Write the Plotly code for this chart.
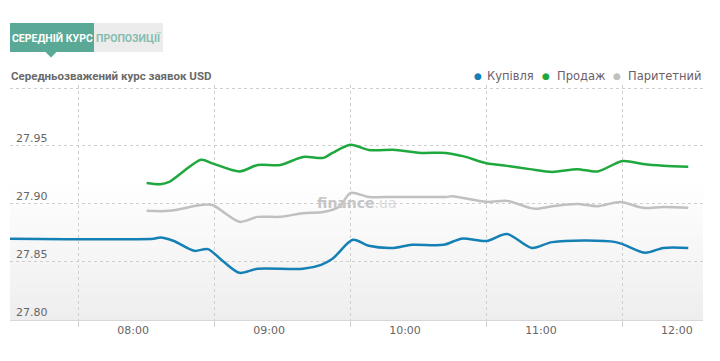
import plotly.graph_objects as go

DAY = "2014-01-01 "

# --- data ---
buy_times = ["07:00", "08:09", "08:12", "08:18", "08:27", "08:33", "08:40", "08:47", "08:55",
             "09:15", "09:23", "09:28", "09:37", "09:44", "09:55", "10:03", "10:17", "10:25",
             "10:36", "10:45", "10:56", "11:05", "11:33", "11:46", "11:54", "12:05"]
buy_values = [27.870, 27.870, 27.871, 27.868, 27.8595, 27.861, 27.850, 27.8405, 27.844,
              27.844, 27.8474, 27.8526, 27.869, 27.8638, 27.862, 27.8647, 27.8647, 27.870,
              27.868, 27.874, 27.862, 27.867, 27.867, 27.8578, 27.862, 27.862]

sell_times = ["08:06", "08:12", "08:16", "08:30", "08:35", "08:47", "08:55", "09:05", "09:15",
              "09:24", "09:28", "09:36", "09:44", "09:56", "10:07", "10:18", "10:26", "10:36",
              "10:45", "10:55", "11:05", "11:16", "11:25", "11:36", "11:45", "11:54", "12:05"]
sell_values = [27.918, 27.917, 27.919, 27.938, 27.935, 27.928, 27.9336, 27.9336, 27.9405,
               27.9397, 27.944, 27.951, 27.9466, 27.9466, 27.944, 27.944, 27.941, 27.935,
               27.9328, 27.930, 27.9276, 27.930, 27.928, 27.937, 27.9345, 27.933, 27.932]

par_times = ["08:06", "08:16", "08:30", "08:35", "08:47", "08:55", "09:05", "09:15", "09:24",
             "09:31", "09:36", "09:44", "09:56", "10:18", "10:21", "10:36", "10:45", "10:55",
             "10:58", "11:05", "11:16", "11:25", "11:35", "11:45", "11:54", "12:05"]
par_values = [27.894, 27.894, 27.899, 27.899, 27.8845, 27.8888, 27.8888, 27.892, 27.893,
              27.8975, 27.9095, 27.906, 27.906, 27.906, 27.9065, 27.9017, 27.9026, 27.8966,
              27.8957, 27.898, 27.900, 27.898, 27.9017, 27.8966, 27.8974, 27.8966]

series_names = ["Купівля", "Продаж", "Паритетний"]
series_colors = ["#1580b4", "#1fa83e", "#c0c0c0"]

hour_ticks = ["08:00", "09:00", "10:00", "11:00", "12:00"]
grid_times = ["07:36", "08:36", "09:36", "10:36", "11:36"]
y_ticks = [27.80, 27.85, 27.90, 27.95, 28.00]
y_labels = ["27.80", "27.85", "27.90", "27.95", ""]
x_range = ["07:05:42", "12:11:30"]
y_range = [27.7998, 28.0026]

title_text = "Середньозважений курс заявок USD"
tab_active = "СЕРЕДНІЙ КУРС"
tab_other = "ПРОПОЗИЦІЇ"

# --- figure ---
fig = go.Figure()
for times, vals, name, col in [(buy_times, buy_values, series_names[0], series_colors[0]),
                               (sell_times, sell_values, series_names[1], series_colors[1]),
                               (par_times, par_values, series_names[2], series_colors[2])]:
    fig.add_trace(go.Scatter(
        x=[DAY + t for t in times], y=vals, name=name, mode="lines",
        line=dict(color=col, width=2.5, shape="spline", smoothing=0.8),
        showlegend=False, hoverinfo="x+y+name"))

L, R, T, B = 10, 17, 85, 41
W, H = 720, 361
PW, PH = W - L - R, H - T - B

def px(xp):
    return (xp - L) / PW

def py(yp):
    return (H - B - yp) / PH

NARROW = "Roboto, Liberation Sans Narrow, sans-serif"

shapes = []
# plot background gradient (white top -> light grey bottom)
N = 30
top = 0.6
for i in range(N):
    f = i / (N - 1)
    c = int(round(0xee + (0xff - 0xee) * f))
    shapes.append(dict(type="rect", xref="paper", yref="paper", x0=0, x1=1,
                       y0=top * i / N, y1=top * (i + 1) / N + 0.002,
                       fillcolor=f"rgb({c},{c},{c})", line=dict(width=0), layer="below"))
# tabs
shapes.append(dict(type="rect", xref="paper", yref="paper", x0=px(10), x1=px(94),
                   y0=py(52), y1=py(23), fillcolor="#5aa996", line=dict(width=0)))
shapes.append(dict(type="rect", xref="paper", yref="paper", x0=px(94), x1=px(163),
                   y0=py(52), y1=py(23), fillcolor="#ececec", line=dict(width=0)))
shapes.append(dict(type="path", xref="paper", yref="paper",
                   path=f"M {px(45)} {py(51.5)} L {px(57)} {py(51.5)} L {px(51)} {py(57.5)} Z",
                   fillcolor="#5aa996", line=dict(width=0)))

annotations = [
    dict(text=f"<b>{tab_active}</b>", x=px(52), y=py(38), xref="paper", yref="paper",
         showarrow=False, xanchor="center", yanchor="middle",
         font=dict(family=NARROW, size=10.5, color="#ffffff")),
    dict(text=f"<b>{tab_other}</b>", x=px(128.5), y=py(38), xref="paper", yref="paper",
         showarrow=False, xanchor="center", yanchor="middle",
         font=dict(family=NARROW, size=10.5, color="#86bcb0")),
    dict(text=f"<b>{title_text}</b>", x=px(9), y=py(76), xref="paper", yref="paper",
         showarrow=False, xanchor="left", yanchor="middle",
         font=dict(family=NARROW, size=11.5, color="#6a6a6a")),
    dict(text="<b>finance</b><span style='color:#d8d8d8'>.ua</span>", x=px(357), y=py(203),
         xref="paper", yref="paper", showarrow=False, xanchor="center", yanchor="middle",
         font=dict(family="DejaVu Sans, sans-serif", size=14, color="#c6c6c6")),
]
# legend built from annotations
legend_dot_x = [478, 546, 617]
legend_txt_x = [485, 555, 626]
for name, col, dx, tx in zip(series_names, series_colors, legend_dot_x, legend_txt_x):
    annotations.append(dict(text="●", x=px(dx), y=py(76), xref="paper", yref="paper",
                            showarrow=False, xanchor="center", yanchor="middle",
                            font=dict(size=9, color=col)))
    annotations.append(dict(text=name, x=px(tx), y=py(76), xref="paper", yref="paper",
                            showarrow=False, xanchor="left", yanchor="middle",
                            font=dict(family="DejaVu Sans, sans-serif", size=11.5, color="#6d6068")))

fig.update_layout(
    width=W, height=H,
    margin=dict(l=L, r=R, t=T, b=B, pad=0),
    paper_bgcolor="#ffffff", plot_bgcolor="#ffffff",
    shapes=shapes, annotations=annotations,
    showlegend=False,
    font=dict(family="DejaVu Sans, sans-serif", size=11, color="#666666"),
)
fig.update_xaxes(
    type="date", range=[DAY + x_range[0], DAY + x_range[1]],
    tickvals=[DAY + t for t in hour_ticks], ticktext=hour_ticks,
    showgrid=False, ticks="", showline=True, linecolor="#d8d8d8", linewidth=1,
    zeroline=False, tickfont=dict(size=11, color="#666666"),
    minor=dict(tickvals=[DAY + t for t in grid_times], showgrid=True, gridcolor="#cfcfcf",
               griddash="3px,3px", gridwidth=1, ticks="outside", ticklen=6, tickcolor="#cfcfcf"),
)
fig.update_yaxes(
    range=y_range, tickvals=y_ticks, ticktext=y_labels,
    showgrid=True, gridcolor="#cfcfcf", griddash="3px,3px", gridwidth=1,
    zeroline=False, showline=False, ticks="",
    ticklabelposition="inside top", ticklabelstandoff=3,
    tickfont=dict(size=11, color="#666666"),
)

fig.write_html("out.html", config={"displayModeBar": False},
               post_script="document.body.style.margin='0';")
